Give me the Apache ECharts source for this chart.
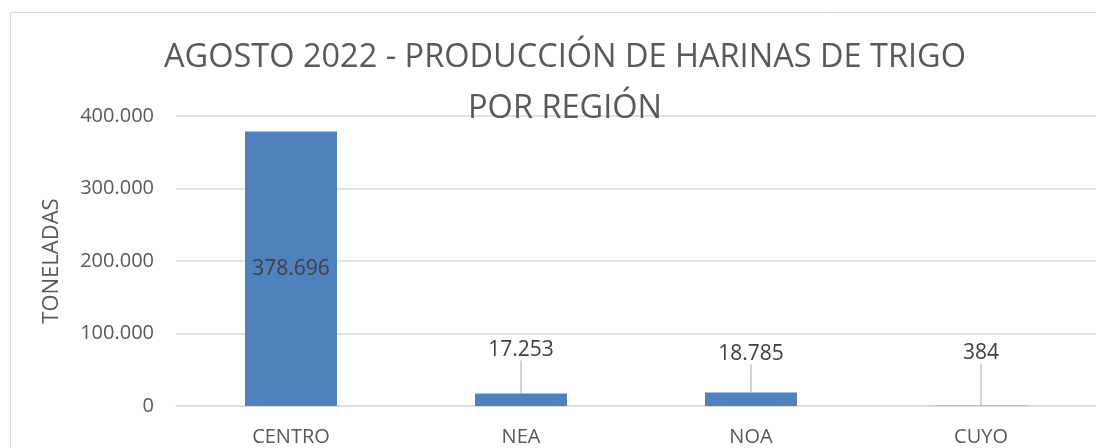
<!DOCTYPE html>
<html>
<head>
<meta charset="utf-8">
<script src="https://cdn.jsdelivr.net/npm/echarts@6/dist/echarts.min.js"></script>
<style>
  html, body { margin: 0; padding: 0; background: #fff; }
  #chart { width: 1096px; height: 448px; }
</style>
</head>
<body>
<div id="chart"></div>
<script>
var categories = ['CENTRO', 'NEA', 'NOA', 'CUYO'];
var toneladas = [378696, 17253, 18785, 384];
var yTicks = [0, 100000, 200000, 300000, 400000];

var font = '"Open Sans", "Liberation Sans", sans-serif';

function fmt(v) {
  return String(v).replace(/\B(?=(\d{3})+(?!\d))/g, '.');
}

// how far each moved label sits above its bar (0 = label inside the bar)
var labelLift = [0, -28, -23, -37];

var chart = echarts.init(document.getElementById('chart'));

var barData = toneladas.map(function (v, i) {
  if (i === 0) {
    return { value: v, label: { position: 'inside' } };
  }
  return {
    value: v,
    label: { position: 'top' },
    labelLine: { show: true }
  };
});

chart.setOption({
  backgroundColor: '#ffffff',
  animation: false,
  graphic: [{
    type: 'rect',
    shape: { x: 10.5, y: 12.5, width: 1200, height: 500 },
    style: { fill: 'none', stroke: '#d9d9d9', lineWidth: 1 },
    silent: true
  }],
  title: {
    text: 'AGOSTO 2022 - PRODUCCIÓN DE HARINAS DE TRIGO\nPOR REGIÓN',
    left: 560,
    top: 27,
    textAlign: 'center',
    textStyle: {
      fontFamily: font,
      fontSize: 32.5,
      fontWeight: 'normal',
      color: '#595959',
      lineHeight: 51
    }
  },
  grid: {
    left: 176,
    right: 0,
    top: 116,
    bottom: 42
  },
  xAxis: {
    type: 'category',
    data: categories,
    axisTick: { show: false },
    axisLine: { lineStyle: { color: '#d9d9d9', width: 1.5 } },
    axisLabel: {
      fontFamily: font,
      fontSize: 20,
      color: '#595959',
      margin: 21
    }
  },
  yAxis: {
    type: 'value',
    min: yTicks[0],
    max: yTicks[yTicks.length - 1],
    interval: 100000,
    name: 'TONELADAS',
    nameLocation: 'middle',
    nameGap: 113,
    nameTextStyle: {
      fontFamily: font,
      fontSize: 22,
      color: '#595959'
    },
    axisLine: { show: false },
    axisTick: { show: false },
    splitLine: { lineStyle: { color: '#d9d9d9', width: 1.5 } },
    axisLabel: {
      fontFamily: font,
      fontSize: 20,
      color: '#595959',
      margin: 22,
      formatter: function (v) { return fmt(v); }
    }
  },
  series: [{
    type: 'bar',
    data: barData,
    barWidth: '40%',
    itemStyle: { color: '#4f81bd' },
    label: {
      show: true,
      fontFamily: font,
      fontSize: 21,
      color: '#404040',
      formatter: function (p) { return fmt(p.value); }
    },
    labelLine: {
      show: true,
      lineStyle: { color: '#a6a6a6', width: 1 }
    },
    labelLayout: function (p) {
      if (p.dataIndex === 0) return {};
      return { dy: labelLift[p.dataIndex] };
    }
  }]
});
</script>
</body>
</html>
